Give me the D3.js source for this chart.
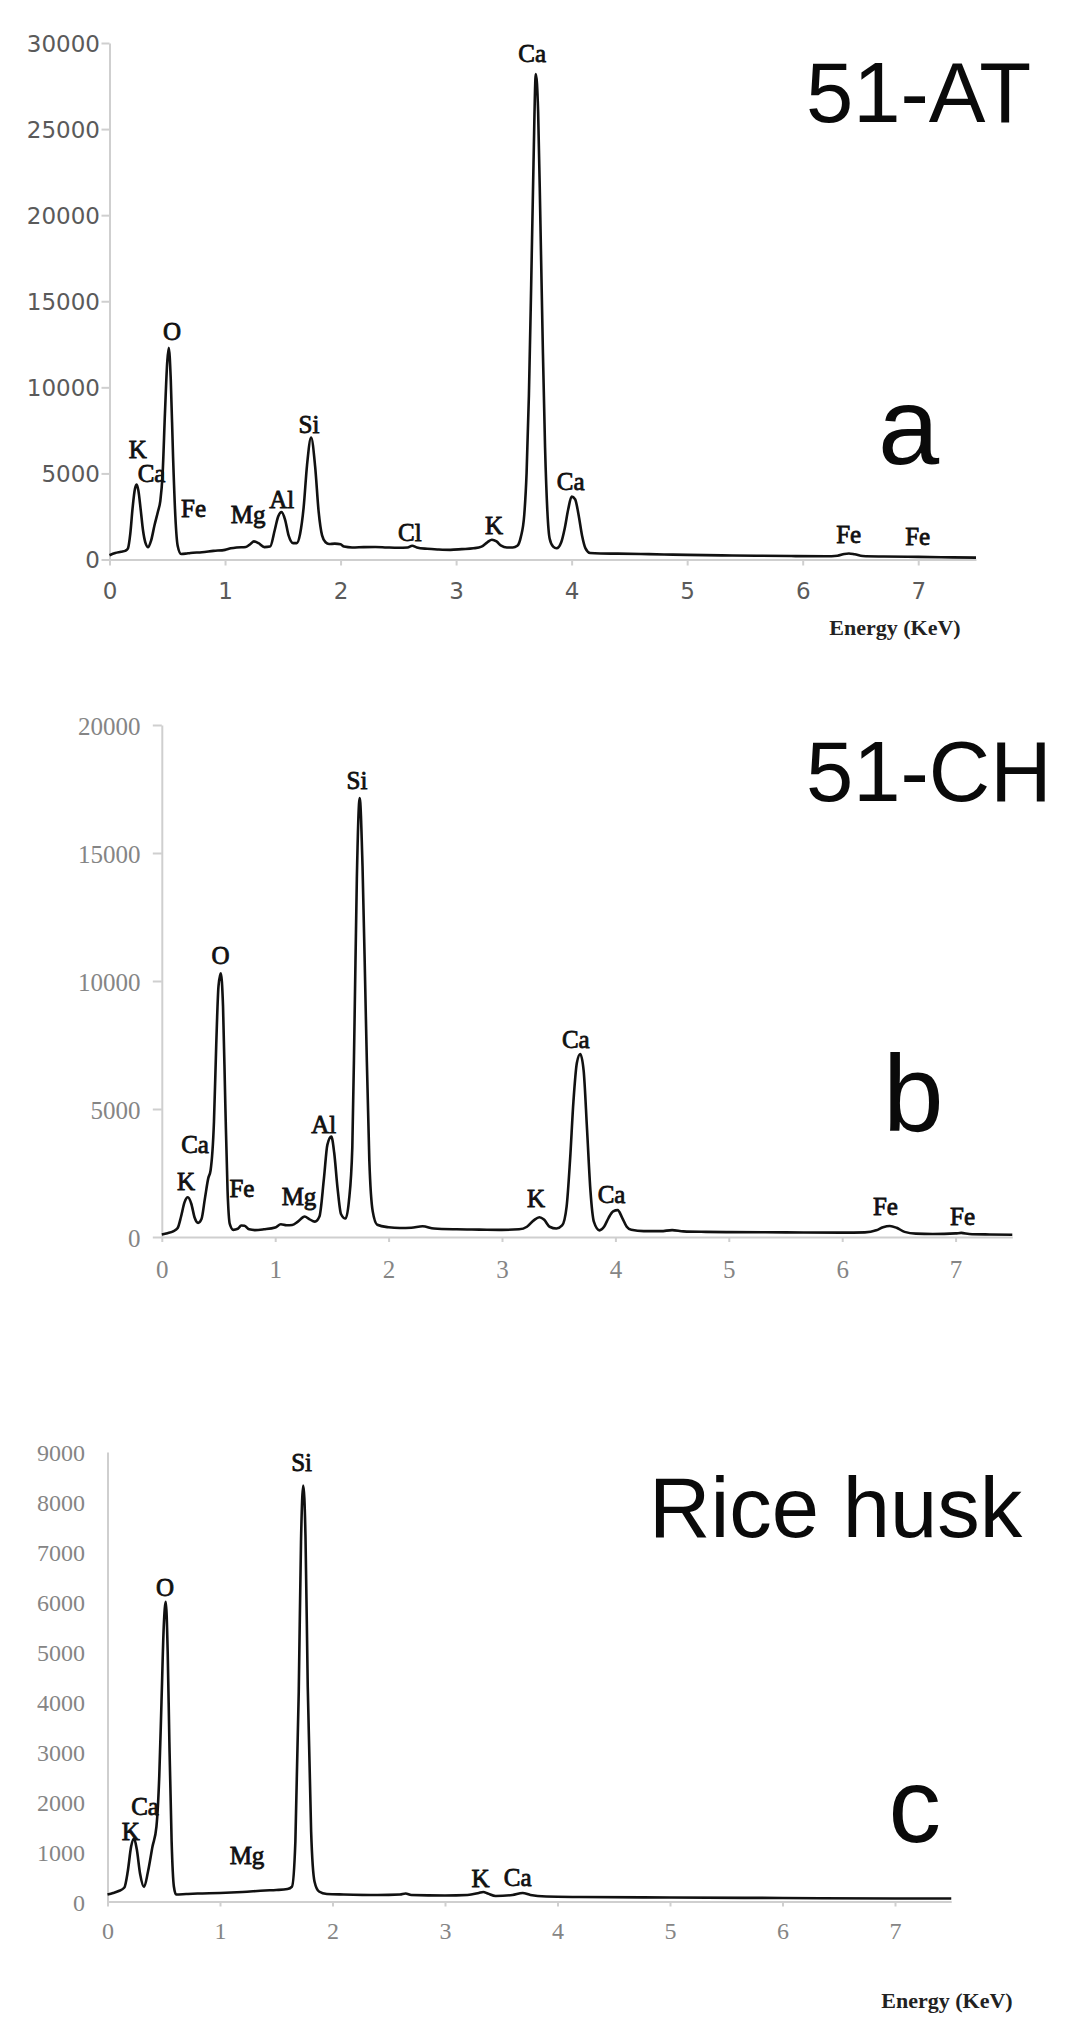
<!DOCTYPE html>
<html>
<head>
<meta charset="utf-8">
<script src="https://cdn.jsdelivr.net/npm/d3@7"></script>
<style>
  html, body { margin: 0; padding: 0; background: #fff; }
  svg { display: block; }
</style>
</head>
<body>
<svg id="chart" width="1070" height="2033"></svg>
<script>
// ---------------- DATA ----------------
const xTickValues = [0, 1, 2, 3, 4, 5, 6, 7];
const yTicksA = [0, 5000, 10000, 15000, 20000, 25000, 30000];
const yTicksB = [0, 5000, 10000, 15000, 20000];
const yTicksC = [0, 1000, 2000, 3000, 4000, 5000, 6000, 7000, 8000, 9000];

const sampleNames = ["51-AT", "51-CH", "Rice husk"];
const panelLetters = ["a", "b", "c"];
const axisTitle = "Energy (KeV)";

// Panel a : 51-AT spectrum (energy keV, counts)
const energyA = [0.00,0.05,0.10,0.14,0.16,0.18,0.20,0.22,0.236,0.25,0.27,0.29,0.31,0.335,0.36,0.39,0.42,0.44,0.46,0.48,0.50,0.513,0.53,0.55,0.57,0.59,0.62,0.66,0.70,0.80,0.90,1.00,1.05,1.10,1.18,1.22,1.25,1.29,1.34,1.39,1.43,1.46,1.49,1.52,1.55,1.59,1.62,1.65,1.68,1.71,1.745,1.78,1.81,1.84,1.87,1.90,1.95,2.00,2.03,2.10,2.20,2.30,2.40,2.50,2.58,2.62,2.66,2.75,2.85,2.95,3.05,3.15,3.22,3.27,3.31,3.35,3.39,3.44,3.49,3.53,3.56,3.59,3.61,3.63,3.65,3.67,3.69,3.71,3.73,3.75,3.77,3.79,3.81,3.84,3.87,3.91,3.94,3.97,4.00,4.03,4.06,4.09,4.12,4.16,4.25,4.40,4.60,4.80,5.00,5.30,5.60,5.90,6.20,6.30,6.36,6.40,6.45,6.52,6.70,7.00,7.20,7.50];
const countsA = [250,380,450,520,650,1500,3000,4100,4350,4000,2900,1700,1000,720,1100,2000,2800,3400,5000,8500,11500,12300,10500,6000,2500,800,320,340,380,420,500,560,650,700,730,900,1050,950,720,750,1700,2500,2750,2300,1400,950,950,1500,3000,5500,7080,5400,2800,1400,1000,900,920,880,750,700,720,730,700,680,700,800,700,620,580,560,600,650,750,1000,1150,1050,800,700,700,800,1300,2600,5000,9500,16000,23000,28200,26000,19500,12500,6500,2800,1200,750,650,1000,1800,2900,3650,3500,2600,1400,650,380,350,340,320,290,270,240,220,200,190,220,320,350,300,200,170,150,130,110];

// Panel b : 51-CH spectrum
const energyB = [0.00,0.05,0.10,0.14,0.17,0.20,0.23,0.26,0.29,0.32,0.35,0.38,0.41,0.43,0.46,0.48,0.50,0.52,0.54,0.56,0.58,0.60,0.63,0.67,0.70,0.73,0.77,0.82,0.90,1.00,1.05,1.10,1.15,1.20,1.26,1.30,1.35,1.39,1.43,1.46,1.495,1.52,1.55,1.58,1.62,1.65,1.68,1.70,1.72,1.745,1.77,1.80,1.83,1.86,1.90,2.00,2.10,2.20,2.30,2.40,2.60,2.80,3.00,3.15,3.22,3.28,3.33,3.37,3.42,3.48,3.53,3.57,3.60,3.63,3.66,3.69,3.72,3.75,3.78,3.81,3.86,3.90,3.94,3.98,4.02,4.06,4.10,4.14,4.25,4.40,4.50,4.60,4.80,5.00,5.50,6.00,6.20,6.30,6.36,6.42,6.48,6.55,6.65,6.80,7.00,7.05,7.12,7.30,7.50];
const countsB = [100,150,220,350,800,1350,1550,1300,750,550,700,1500,2300,2600,4500,7500,9800,10300,9000,5200,1800,500,280,320,450,440,300,270,300,370,500,460,470,600,800,700,600,800,2300,3600,3920,3300,1900,900,720,1400,3500,8500,14000,17150,14500,8500,3000,1000,480,380,350,360,420,330,300,290,280,300,400,650,770,680,400,330,450,1200,3000,5300,6800,7150,6500,4200,1800,600,260,400,750,1000,1050,750,400,280,230,230,270,220,200,190,180,170,180,260,380,430,360,200,130,120,140,160,120,100,90];

// Panel c : Rice husk spectrum
const energyC = [0.00,0.05,0.10,0.15,0.18,0.21,0.236,0.26,0.29,0.325,0.36,0.40,0.435,0.46,0.48,0.50,0.518,0.535,0.55,0.57,0.59,0.61,0.70,0.80,1.00,1.20,1.40,1.50,1.60,1.64,1.67,1.70,1.72,1.74,1.76,1.78,1.81,1.84,1.88,1.95,2.10,2.40,2.60,2.65,2.70,3.00,3.20,3.30,3.34,3.38,3.45,3.60,3.69,3.76,3.90,4.20,5.00,6.00,7.00,7.50];
const countsC = [140,170,210,280,600,1100,1260,1050,550,290,600,1100,1500,2500,4000,5500,6000,5000,3200,1200,300,140,150,160,170,190,220,230,250,300,1200,4200,7200,8330,7300,4300,1400,400,200,150,140,130,140,160,130,120,130,170,190,160,110,130,170,130,100,90,80,70,60,60];

// Element labels: [symbol, energy (keV), counts] in data units
const labelsA = [["K",0.244,6384],["Ca",0.364,4983],["O",0.541,13227],["Fe",0.727,2936],["Mg",1.199,2605],["Al",1.491,3494],["Si",1.727,7831],["Cl",2.600,1541],["K",3.329,1948],["Ca",3.658,29372],["Ca",3.992,4541],["Fe",6.398,1424],["Fe",6.995,1308]];
const labelsB = [["K",0.213,2187],["Ca",0.293,3609],["O",0.517,10984],["Fe",0.707,1914],["Mg",1.210,1566],["Al",1.428,4390],["Si",1.721,17820],["K",3.300,1492],["Ca",3.651,7707],["Ca",3.966,1656],["Fe",6.381,1172],["Fe",7.061,820]];
const labelsC = [["K",0.206,1400],["Ca",0.334,1900],["O",0.512,6286],["Mg",1.240,923],["Si",1.725,8785],["K",3.315,454],["Ca",3.646,482]];

// ---------------- DRAWING ----------------
const svg = d3.select("#chart");
const xMax = 7.5;

const panels = [
  { energy: energyA, counts: countsA, labels: labelsA, yTicks: yTicksA, yMax: 30000,
    x0: 109.5, x1: 976, yTop: 43, yBot: 559.5,
    tickFont: "'DejaVu Sans', sans-serif", tickSize: 23, tickColor: "#5a5a5a",
    yTickLen: 8, yLabelGap: 9.5, xTickLen: 6, xLabelOffset: 31.5,
    title: { x: 806, y: 121.5, size: 85 }, letter: { x: 878, y: 464, size: 110 },
    energyLabel: { x: 895, y: 627 } },
  { energy: energyB, counts: countsB, labels: labelsB, yTicks: yTicksB, yMax: 20000,
    x0: 161.8, x1: 1012.3, yTop: 725, yBot: 1237,
    tickFont: "'Liberation Serif', 'Times New Roman', serif", tickSize: 25, tickColor: "#858585",
    yTickLen: 9, yLabelGap: 21.3, xTickLen: 5, xLabelOffset: 32,
    title: { x: 806, y: 801, size: 85 }, letter: { x: 883, y: 1131, size: 109 },
    energyLabel: null },
  { energy: energyC, counts: countsC, labels: labelsC, yTicks: yTicksC, yMax: 9000,
    x0: 107.5, x1: 951.25, yTop: 1452, yBot: 1901.5,
    tickFont: "'Liberation Serif', 'Times New Roman', serif", tickSize: 24, tickColor: "#858585",
    yTickLen: 0, yLabelGap: 22.5, xTickLen: 5, xLabelOffset: 28.5,
    title: { x: 649, y: 1536.5, size: 85 }, letter: { x: 888.5, y: 1842, size: 105 },
    energyLabel: { x: 947, y: 2000 } }
];

const axisColor = "#cfcfcf";

panels.forEach((p, i) => {
  const g = svg.append("g");
  const x = d3.scaleLinear().domain([0, xMax]).range([p.x0, p.x1]);
  const y = d3.scaleLinear().domain([0, p.yMax]).range([p.yBot, p.yTop]);

  // y axis
  const yAxis = d3.axisLeft(y).tickValues(p.yTicks).tickSize(p.yTickLen).tickSizeOuter(0)
    .tickPadding(p.yLabelGap - p.yTickLen).tickFormat(d3.format("d"));
  const gy = g.append("g").attr("transform", `translate(${p.x0},0)`).call(yAxis);
  gy.select(".domain").attr("stroke", axisColor).attr("stroke-width", 2);
  gy.selectAll(".tick line").attr("stroke", axisColor).attr("stroke-width", 2);
  gy.selectAll(".tick text").attr("font-family", p.tickFont).attr("font-size", p.tickSize)
    .attr("fill", p.tickColor).attr("dy", "0.36em");

  // x axis
  const xAxis = d3.axisBottom(x).tickValues(xTickValues).tickSize(p.xTickLen).tickSizeOuter(0)
    .tickFormat(d3.format("d"));
  const gx = g.append("g").attr("transform", `translate(0,${p.yBot})`).call(xAxis);
  gx.select(".domain").attr("stroke", axisColor).attr("stroke-width", 2);
  gx.selectAll(".tick line").attr("stroke", axisColor).attr("stroke-width", 2);
  gx.selectAll(".tick text").attr("font-family", p.tickFont).attr("font-size", p.tickSize)
    .attr("fill", p.tickColor).attr("y", p.xLabelOffset).attr("dy", "0.36em");

  // spectrum line
  const pts = p.energy.map((e, k) => [e, p.counts[k]]);
  const line = d3.line().x(d => x(d[0])).y(d => y(d[1])).curve(d3.curveMonotoneX);
  g.append("path").datum(pts).attr("d", line).attr("fill", "none")
    .attr("stroke", "#111").attr("stroke-width", 2.6).attr("stroke-linejoin", "round");

  // element labels
  g.selectAll("text.el").data(p.labels).enter().append("text").attr("class", "el")
    .attr("x", d => x(d[1])).attr("y", d => y(d[2])).attr("dy", "0.34em")
    .attr("text-anchor", "middle")
    .attr("font-family", "'Liberation Serif', 'Times New Roman', serif")
    .attr("font-size", 25).attr("fill", "#111")
    .attr("stroke", "#111").attr("stroke-width", 0.8)
    .text(d => d[0]);

  // sample title
  g.append("text").attr("x", p.title.x).attr("y", p.title.y)
    .attr("font-family", "'Liberation Sans', Arial, sans-serif")
    .attr("font-size", p.title.size).attr("fill", "#0a0a0a").text(sampleNames[i]);

  // panel letter
  g.append("text").attr("x", p.letter.x).attr("y", p.letter.y)
    .attr("font-family", "'Liberation Sans', Arial, sans-serif")
    .attr("font-size", p.letter.size).attr("fill", "#0a0a0a").text(panelLetters[i]);

  // axis title
  if (p.energyLabel) {
    g.append("text").attr("x", p.energyLabel.x).attr("y", p.energyLabel.y).attr("dy", "0.35em")
      .attr("text-anchor", "middle")
      .attr("font-family", "'Liberation Serif', 'Times New Roman', serif")
      .attr("font-weight", "bold").attr("font-size", 22).attr("fill", "#222")
      .text(axisTitle);
  }
});
</script>
</body>
</html>
